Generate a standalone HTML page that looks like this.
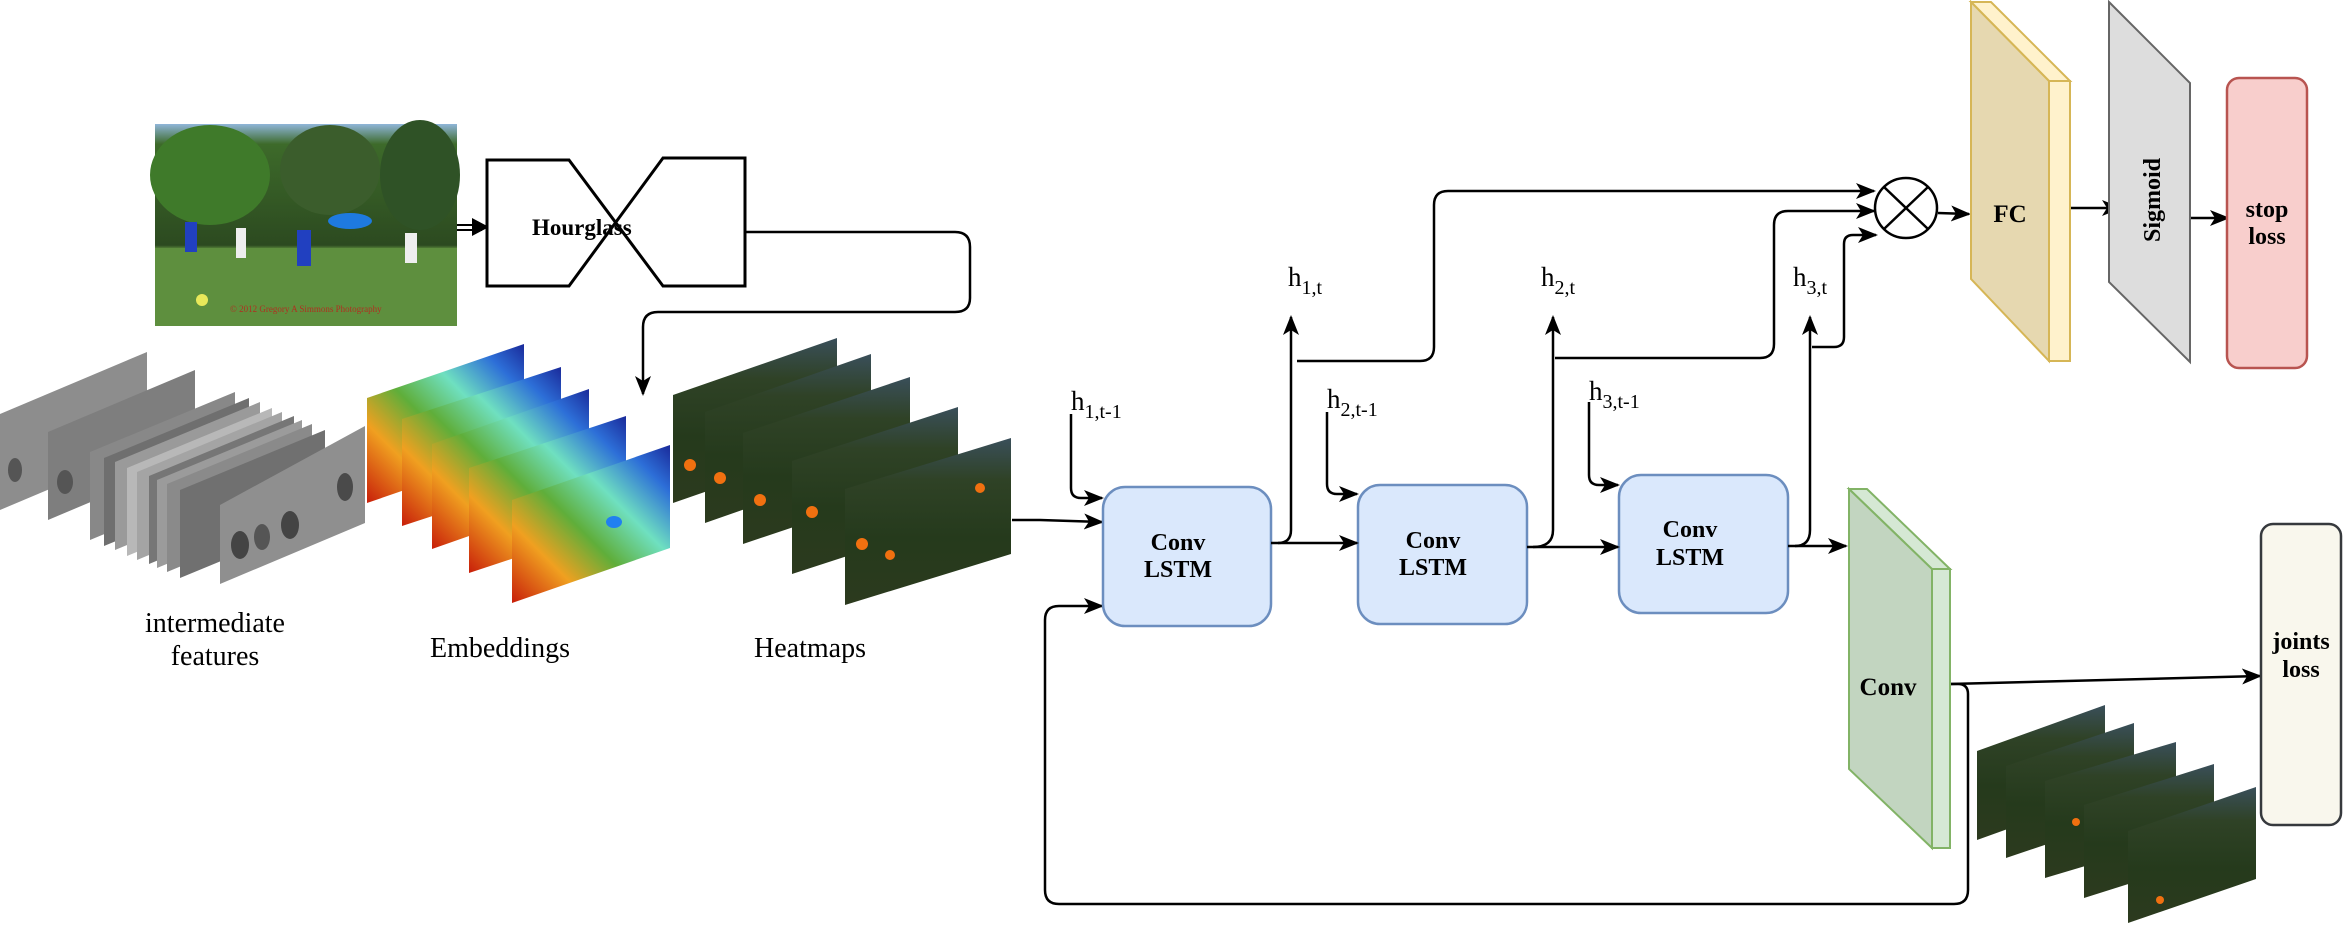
<!DOCTYPE html>
<html><head><meta charset="utf-8"><style>
html,body{margin:0;padding:0;background:#fff;}
svg{display:block;}
text{font-family:"Liberation Serif",serif;fill:#000;}
.b{font-weight:bold;}
</style></head><body>
<svg width="2345" height="931" viewBox="0 0 2345 931" xmlns="http://www.w3.org/2000/svg">
<defs>
<marker id="a" viewBox="0 0 20 16" refX="18" refY="8" markerWidth="20" markerHeight="16" markerUnits="userSpaceOnUse" orient="auto">
<path d="M0,0 L20,8 L0,16 L5,8 Z" fill="#000"/>
</marker>
<linearGradient id="emb" x1="0" y1="1" x2="1" y2="0">
<stop offset="0" stop-color="#c81e0a"/><stop offset="0.25" stop-color="#f0a020"/><stop offset="0.45" stop-color="#5fae3a"/><stop offset="0.65" stop-color="#6fe0c0"/><stop offset="0.85" stop-color="#2d6fd8"/><stop offset="1" stop-color="#1a2a9a"/>
</linearGradient>
<linearGradient id="hm" x1="0" y1="0" x2="0" y2="1">
<stop offset="0" stop-color="#3a4f5a"/><stop offset="0.25" stop-color="#2f4226"/><stop offset="0.6" stop-color="#253a1c"/><stop offset="1" stop-color="#2c3a1e"/>
</linearGradient>
<linearGradient id="ph" x1="0" y1="0" x2="0" y2="1">
<stop offset="0" stop-color="#8fb5d8"/><stop offset="0.1" stop-color="#3d6a2a"/><stop offset="0.6" stop-color="#2c4a20"/><stop offset="0.62" stop-color="#5f8f3e"/><stop offset="1" stop-color="#5a8a3a"/>
</linearGradient>
</defs>

<!-- photo -->
<rect x="155" y="124" width="302" height="202" fill="url(#ph)"/>
<ellipse cx="210" cy="175" rx="60" ry="50" fill="#3f7a2a"/>
<ellipse cx="330" cy="170" rx="50" ry="45" fill="#3b5d2c"/>
<ellipse cx="420" cy="175" rx="40" ry="55" fill="#2f5226"/>
<rect x="155" y="248" width="302" height="78" fill="#5e8f3e"/>
<ellipse cx="350" cy="221" rx="22" ry="8" fill="#1e7ae0"/>
<rect x="185" y="222" width="12" height="30" fill="#2140c0"/>
<rect x="236" y="228" width="10" height="30" fill="#eee"/>
<rect x="297" y="230" width="14" height="36" fill="#2140c0"/>
<rect x="405" y="233" width="12" height="30" fill="#eee"/>
<circle cx="202" cy="300" r="6" fill="#e8e85a"/>
<text x="230" y="312" font-size="9" style="fill:#b03020">© 2012 Gregory A Simmons Photography</text>

<!-- double arrow to hourglass -->
<line x1="457" y1="225" x2="482" y2="225" stroke="#000" stroke-width="2"/>
<line x1="457" y1="230" x2="482" y2="230" stroke="#000" stroke-width="2"/>
<path d="M472,218 L489,227 L472,236 Z" fill="#000"/>

<!-- hourglass -->
<path d="M487,160 L569,160 L663,286 L745,286 L745,158 L663,158 L569,286 L487,286 Z" fill="#fff" stroke="#000" stroke-width="3"/>
<text x="532" y="235" font-size="23" class="b">Hourglass</text>
<path d="M745,232 L955,232 Q970,232 970,247 L970,298 Q970,312 955,312 L658,312 Q643,312 643,327 L643,394" fill="none" stroke="#000" stroke-width="2.5" marker-end="url(#a)"/>

<!-- intermediate features -->
<g stroke="none">
<polygon points="0,414 147,352 147,448 0,510" fill="#8d8d8d"/>
<polygon points="48,432 195,370 195,458 48,520" fill="#7e7e7e"/>
<polygon points="90,452 235,392 235,480 90,540" fill="#888"/>
<polygon points="104,458 249,398 249,486 104,546" fill="#6f6f6f"/>
<polygon points="115,462 260,402 260,490 115,550" fill="#9a9a9a"/>
<polygon points="127,468 272,408 272,496 127,556" fill="#b8b8b8"/>
<polygon points="137,472 282,412 282,500 137,560" fill="#a4a4a4"/>
<polygon points="149,476 294,416 294,504 149,564" fill="#767676"/>
<polygon points="157,480 302,420 302,508 157,568" fill="#9b9b9b"/>
<polygon points="167,484 312,424 312,512 167,572" fill="#8a8a8a"/>
<polygon points="180,490 325,430 325,518 180,578" fill="#707070"/>
<polygon points="220,505 365,426 365,523 220,584" fill="#8f8f8f"/>
<ellipse cx="240" cy="545" rx="9" ry="14" fill="#444"/>
<ellipse cx="262" cy="537" rx="8" ry="13" fill="#555"/>
<ellipse cx="290" cy="525" rx="9" ry="14" fill="#444"/>
<ellipse cx="345" cy="487" rx="8" ry="14" fill="#4a4a4a"/>
<ellipse cx="15" cy="470" rx="7" ry="12" fill="#555"/>
<ellipse cx="65" cy="482" rx="8" ry="12" fill="#555"/>
</g>
<text x="215" y="632" font-size="28" text-anchor="middle">intermediate</text>
<text x="215" y="665" font-size="28" text-anchor="middle">features</text>

<!-- embeddings -->
<polygon points="367,398 524,344 524,449 367,503" fill="url(#emb)"/>
<polygon points="402,419 561,367 561,474 402,526" fill="url(#emb)"/>
<polygon points="432,444 589,389 589,494 432,549" fill="url(#emb)"/>
<polygon points="469,468 626,416 626,521 469,573" fill="url(#emb)"/>
<polygon points="512,500 670,445 670,548 512,603" fill="url(#emb)"/>
<ellipse cx="614" cy="522" rx="8" ry="6" fill="#2080f0"/>
<text x="500" y="657" font-size="28" text-anchor="middle">Embeddings</text>

<!-- heatmaps -->
<polygon points="673,395 837,338 837,446 673,503" fill="url(#hm)"/>
<polygon points="705,412 871,354 871,465 705,523" fill="url(#hm)"/>
<polygon points="743,433 910,377 910,488 743,544" fill="url(#hm)"/>
<polygon points="792,461 958,407 958,520 792,574" fill="url(#hm)"/>
<polygon points="845,489 1011,438 1011,554 845,605" fill="url(#hm)"/>
<circle cx="690" cy="465" r="6" fill="#f07010"/><circle cx="720" cy="478" r="6" fill="#f07010"/>
<circle cx="760" cy="500" r="6" fill="#f07010"/><circle cx="812" cy="512" r="6" fill="#f07010"/>
<circle cx="862" cy="544" r="6" fill="#f07010"/><circle cx="890" cy="555" r="5" fill="#f07010"/><circle cx="980" cy="488" r="5" fill="#f07010"/>
<text x="810" y="657" font-size="28" text-anchor="middle">Heatmaps</text>

<!-- input arrow -->
<path d="M1012,520 L1040,520 L1102,522" fill="none" stroke="#000" stroke-width="2.5" marker-end="url(#a)"/>

<!-- feedback loop -->
<path d="M1932,684 L1958,684 Q1968,684 1968,694 L1968,890 Q1968,904 1954,904 L1059,904 Q1045,904 1045,890 L1045,620 Q1045,606 1059,606 L1102,606" fill="none" stroke="#000" stroke-width="2.5" marker-end="url(#a)"/>

<!-- LSTMs -->
<rect x="1103" y="487" width="168" height="139" rx="22" fill="#dae8fc" stroke="#6c8ebf" stroke-width="2.5"/>
<rect x="1358" y="485" width="169" height="139" rx="22" fill="#dae8fc" stroke="#6c8ebf" stroke-width="2.5"/>
<rect x="1619" y="475" width="169" height="138" rx="22" fill="#dae8fc" stroke="#6c8ebf" stroke-width="2.5"/>
<g font-size="24" class="b" text-anchor="middle">
<text x="1178" y="550" class="b">Conv</text><text x="1178" y="577" class="b">LSTM</text>
<text x="1433" y="548" class="b">Conv</text><text x="1433" y="575" class="b">LSTM</text>
<text x="1690" y="537" class="b">Conv</text><text x="1690" y="565" class="b">LSTM</text>
</g>

<!-- between -->
<g fill="none" stroke="#000" stroke-width="2.5">
<path d="M1271,543 L1357,543" marker-end="url(#a)"/>
<path d="M1527,547 L1618,547" marker-end="url(#a)"/>
<path d="M1788,546 L1846,546" marker-end="url(#a)"/>
<path d="M1278,543 Q1291,543 1291,530 L1291,317" marker-end="url(#a)"/>
<path d="M1533,547 Q1553,547 1553,530 L1553,317" marker-end="url(#a)"/>
<path d="M1795,546 Q1810,546 1810,530 L1810,317" marker-end="url(#a)"/>
<path d="M1297,361 L1420,361 Q1434,361 1434,347 L1434,205 Q1434,191 1448,191 L1874,191" marker-end="url(#a)"/>
<path d="M1555,358 L1760,358 Q1774,358 1774,344 L1774,225 Q1774,211 1788,211 L1874,211" marker-end="url(#a)"/>
<path d="M1812,347 L1834,347 Q1844,347 1844,337 L1844,244 Q1844,235 1853,235 L1876,235" marker-end="url(#a)"/>
<path d="M1071,414 L1071,488 Q1071,498 1081,498 L1102,498" marker-end="url(#a)"/>
<path d="M1327,412 L1327,484 Q1327,494 1337,494 L1357,494" marker-end="url(#a)"/>
<path d="M1589,402 L1589,475 Q1589,485 1599,485 L1618,485" marker-end="url(#a)"/>
<path d="M1938,213 L1969,214" marker-end="url(#a)"/>
<path d="M2070,208 L2120,208" marker-end="url(#a)"/>
<path d="M2190,218 L2228,218" marker-end="url(#a)"/>
<path d="M1950,684 L2260,676" marker-end="url(#a)"/>
</g>

<!-- labels -->
<g font-size="27">
<text x="1288" y="286">h<tspan font-size="20" dy="8">1,t</tspan></text>
<text x="1541" y="286">h<tspan font-size="20" dy="8">2,t</tspan></text>
<text x="1793" y="286">h<tspan font-size="20" dy="8">3,t</tspan></text>
<text x="1071" y="410">h<tspan font-size="20" dy="8">1,t-1</tspan></text>
<text x="1327" y="408">h<tspan font-size="20" dy="8">2,t-1</tspan></text>
<text x="1589" y="400">h<tspan font-size="20" dy="8">3,t-1</tspan></text>
</g>

<!-- multiply -->
<ellipse cx="1906" cy="208" rx="31" ry="30" fill="#fff" stroke="#000" stroke-width="2.5"/>
<line x1="1884" y1="187" x2="1928" y2="229" stroke="#000" stroke-width="2.5"/>
<line x1="1928" y1="187" x2="1884" y2="229" stroke="#000" stroke-width="2.5"/>

<!-- FC -->
<polygon points="1971,2 1991,2 2070,81 2049,81" fill="#fff2cc" stroke="#d6b656" stroke-width="2"/>
<polygon points="2049,81 2070,81 2070,361 2049,361" fill="#fff2cc" stroke="#d6b656" stroke-width="2"/>
<polygon points="1971,2 2049,81 2049,361 1971,279" fill="#e6d8b0" stroke="#d6b656" stroke-width="2"/>
<text x="2010" y="222" font-size="25" class="b" text-anchor="middle">FC</text>

<!-- Sigmoid -->
<polygon points="2109,2 2190,83 2190,362 2109,282" fill="#dddddd" stroke="#666" stroke-width="2"/>
<text transform="translate(2160,200) rotate(-90)" font-size="24" class="b" text-anchor="middle">Sigmoid</text>

<!-- stop loss -->
<rect x="2227" y="78" width="80" height="290" rx="12" fill="#f8cecc" stroke="#b85450" stroke-width="2.5"/>
<text x="2267" y="217" font-size="24" class="b" text-anchor="middle">stop</text>
<text x="2267" y="244" font-size="24" class="b" text-anchor="middle">loss</text>

<!-- Conv slab -->
<polygon points="1849,489 1867,489 1950,569 1932,569" fill="#d5e8d4" stroke="#82b366" stroke-width="2"/>
<polygon points="1932,569 1950,569 1950,848 1932,848" fill="#d5e8d4" stroke="#82b366" stroke-width="2"/>
<polygon points="1849,489 1932,569 1932,848 1849,769" fill="#c2d5c0" stroke="#82b366" stroke-width="2"/>
<text x="1888" y="695" font-size="25" class="b" text-anchor="middle">Conv</text>

<!-- joints loss -->
<rect x="2261" y="524" width="80" height="301" rx="12" fill="#f9f7ed" stroke="#36393d" stroke-width="2.5"/>
<text x="2301" y="649" font-size="24" class="b" text-anchor="middle">joints</text>
<text x="2301" y="677" font-size="24" class="b" text-anchor="middle">loss</text>

<!-- output heatmaps -->
<polygon points="1977,751 2105,705 2105,794 1977,840" fill="url(#hm)"/>
<polygon points="2006,766 2134,723 2134,815 2006,858" fill="url(#hm)"/>
<polygon points="2045,781 2176,742 2176,839 2045,878" fill="url(#hm)"/>
<polygon points="2084,805 2214,764 2214,857 2084,898" fill="url(#hm)"/>
<polygon points="2128,831 2256,787 2256,879 2128,923" fill="url(#hm)"/>
<circle cx="2076" cy="822" r="4" fill="#f07010"/><circle cx="2160" cy="900" r="4" fill="#f07010"/>
</svg>
</body></html>
